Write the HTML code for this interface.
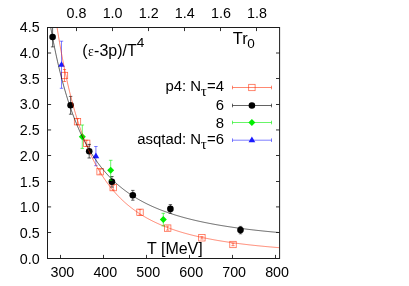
<!DOCTYPE html><html><head><meta charset="utf-8"><title>plot</title><style>
html,body{margin:0;padding:0;background:#fff;}body{width:409px;height:286px;overflow:hidden;}
svg{display:block;font-family:"Liberation Sans",sans-serif;will-change:transform;}
.tk{font-size:14.3px;fill:#000;}.lb{font-size:15.5px;fill:#000;}.lg{font-size:14.9px;fill:#000;}
</style></head><body>
<svg width="409" height="286" viewBox="0 0 409 286">
<rect width="409" height="286" fill="#fff"/>
<defs><clipPath id="cp"><rect x="47.50" y="27.50" width="232.10" height="231.00"/></clipPath></defs>
<g stroke="#ff2a00" stroke-width="0.7" stroke-opacity="0.8" fill="none" clip-path="url(#cp)"><path d="M64.50 69.50 V81.50 M62.90 69.50 H66.10 M62.90 81.50 H66.10"/></g>
<rect x="61.30" y="72.30" width="6.40" height="6.40" fill="none" stroke="#ff2a00" stroke-width="0.7" stroke-opacity="0.8"/>
<g stroke="#ff2a00" stroke-width="0.7" stroke-opacity="0.8" fill="none" clip-path="url(#cp)"><path d="M77.50 118.70 V124.70 M75.90 118.70 H79.10 M75.90 124.70 H79.10"/></g>
<rect x="74.30" y="118.50" width="6.40" height="6.40" fill="none" stroke="#ff2a00" stroke-width="0.7" stroke-opacity="0.8"/>
<g stroke="#ff2a00" stroke-width="0.7" stroke-opacity="0.8" fill="none" clip-path="url(#cp)"><path d="M86.70 140.30 V146.30 M85.10 140.30 H88.30 M85.10 146.30 H88.30"/></g>
<rect x="83.50" y="140.10" width="6.40" height="6.40" fill="none" stroke="#ff2a00" stroke-width="0.7" stroke-opacity="0.8"/>
<g stroke="#ff2a00" stroke-width="0.7" stroke-opacity="0.8" fill="none" clip-path="url(#cp)"><path d="M100.10 169.30 V174.10 M98.50 169.30 H101.70 M98.50 174.10 H101.70"/></g>
<rect x="96.90" y="168.50" width="6.40" height="6.40" fill="none" stroke="#ff2a00" stroke-width="0.7" stroke-opacity="0.8"/>
<g stroke="#ff2a00" stroke-width="0.7" stroke-opacity="0.8" fill="none" clip-path="url(#cp)"><path d="M113.20 185.10 V190.10 M111.60 185.10 H114.80 M111.60 190.10 H114.80"/></g>
<rect x="110.00" y="184.40" width="6.40" height="6.40" fill="none" stroke="#ff2a00" stroke-width="0.7" stroke-opacity="0.8"/>
<g stroke="#ff2a00" stroke-width="0.7" stroke-opacity="0.8" fill="none" clip-path="url(#cp)"><path d="M140.00 209.60 V215.00 M138.40 209.60 H141.60 M138.40 215.00 H141.60"/></g>
<rect x="136.80" y="209.10" width="6.40" height="6.40" fill="none" stroke="#ff2a00" stroke-width="0.7" stroke-opacity="0.8"/>
<g stroke="#ff2a00" stroke-width="0.7" stroke-opacity="0.8" fill="none" clip-path="url(#cp)"><path d="M167.70 226.10 V230.10 M166.10 226.10 H169.30 M166.10 230.10 H169.30"/></g>
<rect x="164.50" y="224.90" width="6.40" height="6.40" fill="none" stroke="#ff2a00" stroke-width="0.7" stroke-opacity="0.8"/>
<g stroke="#ff2a00" stroke-width="0.7" stroke-opacity="0.8" fill="none" clip-path="url(#cp)"><path d="M201.90 236.60 V239.00 M200.30 236.60 H203.50 M200.30 239.00 H203.50"/></g>
<rect x="198.70" y="234.60" width="6.40" height="6.40" fill="none" stroke="#ff2a00" stroke-width="0.7" stroke-opacity="0.8"/>
<g stroke="#ff2a00" stroke-width="0.7" stroke-opacity="0.8" fill="none" clip-path="url(#cp)"><path d="M233.00 243.30 V245.70 M231.40 243.30 H234.60 M231.40 245.70 H234.60"/></g>
<rect x="229.80" y="241.30" width="6.40" height="6.40" fill="none" stroke="#ff2a00" stroke-width="0.7" stroke-opacity="0.8"/>
<g stroke="#000" stroke-width="0.7" stroke-opacity="0.88" fill="none" clip-path="url(#cp)"><path d="M52.60 27.10 V46.90 M50.90 27.10 H54.30 M50.90 46.90 H54.30"/></g>
<circle cx="52.60" cy="37.00" r="3.30" fill="#000"/>
<g stroke="#000" stroke-width="0.7" stroke-opacity="0.88" fill="none" clip-path="url(#cp)"><path d="M70.60 96.40 V114.20 M68.90 96.40 H72.30 M68.90 114.20 H72.30"/></g>
<circle cx="70.60" cy="105.30" r="3.30" fill="#000"/>
<g stroke="#000" stroke-width="0.7" stroke-opacity="0.88" fill="none" clip-path="url(#cp)"><path d="M89.20 144.40 V158.00 M87.50 144.40 H90.90 M87.50 158.00 H90.90"/></g>
<circle cx="89.20" cy="151.20" r="3.30" fill="#000"/>
<g stroke="#000" stroke-width="0.7" stroke-opacity="0.88" fill="none" clip-path="url(#cp)"><path d="M111.90 176.50 V187.10 M110.20 176.50 H113.60 M110.20 187.10 H113.60"/></g>
<circle cx="111.90" cy="181.80" r="3.30" fill="#000"/>
<g stroke="#000" stroke-width="0.7" stroke-opacity="0.88" fill="none" clip-path="url(#cp)"><path d="M132.80 190.40 V200.20 M131.10 190.40 H134.50 M131.10 200.20 H134.50"/></g>
<circle cx="132.80" cy="195.30" r="3.30" fill="#000"/>
<g stroke="#000" stroke-width="0.7" stroke-opacity="0.88" fill="none" clip-path="url(#cp)"><path d="M170.40 204.60 V213.20 M168.70 204.60 H172.10 M168.70 213.20 H172.10"/></g>
<circle cx="170.40" cy="208.90" r="3.30" fill="#000"/>
<g stroke="#000" stroke-width="0.7" stroke-opacity="0.88" fill="none" clip-path="url(#cp)"><path d="M240.50 226.40 V233.80 M238.80 226.40 H242.20 M238.80 233.80 H242.20"/></g>
<circle cx="240.50" cy="230.10" r="3.30" fill="#000"/>
<g stroke="#00ee00" stroke-width="0.7" stroke-opacity="0.85" fill="none" clip-path="url(#cp)"><path d="M82.30 125.00 V148.40 M80.50 125.00 H84.10 M80.50 148.40 H84.10"/></g>
<path d="M82.30 133.20 L85.80 136.70 L82.30 140.20 L78.80 136.70 Z" fill="#00ee00"/>
<g stroke="#00ee00" stroke-width="0.7" stroke-opacity="0.85" fill="none" clip-path="url(#cp)"><path d="M110.70 160.30 V180.30 M108.90 160.30 H112.50 M108.90 180.30 H112.50"/></g>
<path d="M110.70 166.80 L114.20 170.30 L110.70 173.80 L107.20 170.30 Z" fill="#00ee00"/>
<g stroke="#00ee00" stroke-width="0.7" stroke-opacity="0.85" fill="none" clip-path="url(#cp)"><path d="M163.30 213.30 V225.90 M161.50 213.30 H165.10 M161.50 225.90 H165.10"/></g>
<path d="M163.30 216.10 L166.80 219.60 L163.30 223.10 L159.80 219.60 Z" fill="#00ee00"/>
<g stroke="#1a1aff" stroke-width="0.7" stroke-opacity="0.8" fill="none" clip-path="url(#cp)"><path d="M61.50 41.20 V88.30 M59.80 41.20 H63.20 M59.80 88.30 H63.20"/></g>
<path d="M61.50 61.15 L64.85 66.85 L58.15 66.85 Z" fill="#1a1aff"/>
<g stroke="#1a1aff" stroke-width="0.7" stroke-opacity="0.8" fill="none" clip-path="url(#cp)"><path d="M95.90 146.50 V165.70 M94.20 146.50 H97.60 M94.20 165.70 H97.60"/></g>
<path d="M95.90 152.50 L99.25 158.20 L92.55 158.20 Z" fill="#1a1aff"/>
<path d="M46.50 -55.93 L47.50 -46.46 L48.50 -37.36 L49.50 -28.63 L50.50 -20.24 L51.50 -12.18 L52.50 -4.43 L53.50 3.02 L54.50 10.20 L55.50 17.10 L56.50 23.75 L57.50 30.15 L58.50 36.31 L59.50 42.26 L60.50 47.99 L61.50 53.51 L62.50 58.84 L63.50 63.99 L64.50 68.95 L65.50 73.74 L66.50 78.37 L67.50 82.85 L68.50 87.17 L69.50 91.35 L70.50 95.39 L71.50 99.30 L72.50 103.08 L73.50 106.73 L74.50 110.28 L75.50 113.70 L76.50 117.02 L77.50 120.24 L78.50 123.36 L79.50 126.38 L80.50 129.30 L81.50 132.14 L82.50 134.90 L83.50 137.57 L84.50 140.16 L85.50 142.68 L86.50 145.12 L87.50 147.49 L88.50 149.79 L89.50 152.03 L90.50 154.20 L91.50 156.31 L92.50 158.36 L93.50 160.36 L94.50 162.30 L95.50 164.19 L96.50 166.02 L97.50 167.81 L98.50 169.55 L99.50 171.24 L100.50 172.89 L101.50 174.49 L102.50 176.05 L103.50 177.58 L104.50 179.06 L105.50 180.50 L106.50 181.91 L107.50 183.28 L108.50 184.62 L109.50 185.92 L110.50 187.19 L111.50 188.44 L112.50 189.65 L113.50 190.83 L114.50 191.98 L115.50 193.10 L116.50 194.20 L117.50 195.27 L118.50 196.32 L119.50 197.34 L120.50 198.34 L121.50 199.32 L122.50 200.27 L123.50 201.20 L124.50 202.11 L125.50 203.00 L126.50 203.87 L127.50 204.72 L128.50 205.55 L129.50 206.36 L130.50 207.16 L131.50 207.94 L132.50 208.70 L133.50 209.44 L134.50 210.17 L135.50 210.89 L136.50 211.59 L137.50 212.27 L138.50 212.94 L139.50 213.60 L140.50 214.24 L141.50 214.87 L142.50 215.48 L143.50 216.09 L144.50 216.68 L145.50 217.26 L146.50 217.83 L147.50 218.38 L148.50 218.93 L149.50 219.47 L150.50 219.99 L151.50 220.51 L152.50 221.01 L153.50 221.51 L154.50 221.99 L155.50 222.47 L156.50 222.93 L157.50 223.39 L158.50 223.84 L159.50 224.29 L160.50 224.72 L161.50 225.14 L162.50 225.56 L163.50 225.97 L164.50 226.38 L165.50 226.77 L166.50 227.16 L167.50 227.54 L168.50 227.92 L169.50 228.29 L170.50 228.65 L171.50 229.00 L172.50 229.35 L173.50 229.70 L174.50 230.03 L175.50 230.36 L176.50 230.69 L177.50 231.01 L178.50 231.33 L179.50 231.64 L180.50 231.94 L181.50 232.24 L182.50 232.54 L183.50 232.83 L184.50 233.11 L185.50 233.39 L186.50 233.67 L187.50 233.94 L188.50 234.21 L189.50 234.47 L190.50 234.73 L191.50 234.98 L192.50 235.23 L193.50 235.48 L194.50 235.72 L195.50 235.96 L196.50 236.20 L197.50 236.43 L198.50 236.66 L199.50 236.88 L200.50 237.10 L201.50 237.32 L202.50 237.54 L203.50 237.75 L204.50 237.96 L205.50 238.16 L206.50 238.36 L207.50 238.56 L208.50 238.76 L209.50 238.95 L210.50 239.14 L211.50 239.33 L212.50 239.52 L213.50 239.70 L214.50 239.88 L215.50 240.06 L216.50 240.23 L217.50 240.41 L218.50 240.58 L219.50 240.74 L220.50 240.91 L221.50 241.07 L222.50 241.23 L223.50 241.39 L224.50 241.55 L225.50 241.70 L226.50 241.85 L227.50 242.01 L228.50 242.15 L229.50 242.30 L230.50 242.44 L231.50 242.59 L232.50 242.73 L233.50 242.87 L234.50 243.00 L235.50 243.14 L236.50 243.27 L237.50 243.40 L238.50 243.53 L239.50 243.66 L240.50 243.79 L241.50 243.91 L242.50 244.04 L243.50 244.16 L244.50 244.28 L245.50 244.40 L246.50 244.52 L247.50 244.63 L248.50 244.75 L249.50 244.86 L250.50 244.97 L251.50 245.08 L252.50 245.19 L253.50 245.30 L254.50 245.40 L255.50 245.51 L256.50 245.61 L257.50 245.72 L258.50 245.82 L259.50 245.92 L260.50 246.02 L261.50 246.12 L262.50 246.21 L263.50 246.31 L264.50 246.40 L265.50 246.50 L266.50 246.59 L267.50 246.68 L268.50 246.77 L269.50 246.86 L270.50 246.95 L271.50 247.03 L272.50 247.12 L273.50 247.21 L274.50 247.29 L275.50 247.37 L276.50 247.46 L277.50 247.54 L278.50 247.62 L279.50 247.70" fill="none" stroke="#ff2a00" stroke-width="0.7" stroke-opacity="0.8" clip-path="url(#cp)"/>
<path d="M46.50 1.87 L47.50 8.33 L48.50 14.54 L49.50 20.53 L50.50 26.30 L51.50 31.86 L52.50 37.22 L53.50 42.38 L54.50 47.37 L55.50 52.18 L56.50 56.83 L57.50 61.32 L58.50 65.65 L59.50 69.84 L60.50 73.90 L61.50 77.81 L62.50 81.60 L63.50 85.27 L64.50 88.82 L65.50 92.26 L66.50 95.59 L67.50 98.81 L68.50 101.94 L69.50 104.97 L70.50 107.91 L71.50 110.75 L72.50 113.52 L73.50 116.20 L74.50 118.81 L75.50 121.33 L76.50 123.79 L77.50 126.17 L78.50 128.49 L79.50 130.74 L80.50 132.93 L81.50 135.06 L82.50 137.13 L83.50 139.14 L84.50 141.10 L85.50 143.01 L86.50 144.86 L87.50 146.67 L88.50 148.43 L89.50 150.15 L90.50 151.81 L91.50 153.44 L92.50 155.03 L93.50 156.57 L94.50 158.08 L95.50 159.55 L96.50 160.98 L97.50 162.38 L98.50 163.75 L99.50 165.08 L100.50 166.38 L101.50 167.65 L102.50 168.89 L103.50 170.10 L104.50 171.28 L105.50 172.44 L106.50 173.56 L107.50 174.67 L108.50 175.75 L109.50 176.80 L110.50 177.83 L111.50 178.84 L112.50 179.82 L113.50 180.79 L114.50 181.73 L115.50 182.65 L116.50 183.56 L117.50 184.44 L118.50 185.30 L119.50 186.15 L120.50 186.98 L121.50 187.79 L122.50 188.59 L123.50 189.37 L124.50 190.13 L125.50 190.88 L126.50 191.62 L127.50 192.33 L128.50 193.04 L129.50 193.73 L130.50 194.41 L131.50 195.07 L132.50 195.72 L133.50 196.36 L134.50 196.99 L135.50 197.60 L136.50 198.21 L137.50 198.80 L138.50 199.38 L139.50 199.95 L140.50 200.51 L141.50 201.06 L142.50 201.60 L143.50 202.13 L144.50 202.65 L145.50 203.16 L146.50 203.66 L147.50 204.16 L148.50 204.64 L149.50 205.12 L150.50 205.59 L151.50 206.05 L152.50 206.50 L153.50 206.94 L154.50 207.38 L155.50 207.81 L156.50 208.23 L157.50 208.65 L158.50 209.06 L159.50 209.46 L160.50 209.85 L161.50 210.24 L162.50 210.63 L163.50 211.00 L164.50 211.37 L165.50 211.74 L166.50 212.09 L167.50 212.45 L168.50 212.80 L169.50 213.14 L170.50 213.47 L171.50 213.81 L172.50 214.13 L173.50 214.45 L174.50 214.77 L175.50 215.08 L176.50 215.39 L177.50 215.69 L178.50 215.99 L179.50 216.28 L180.50 216.57 L181.50 216.86 L182.50 217.14 L183.50 217.42 L184.50 217.69 L185.50 217.96 L186.50 218.22 L187.50 218.48 L188.50 218.74 L189.50 218.99 L190.50 219.24 L191.50 219.49 L192.50 219.73 L193.50 219.97 L194.50 220.21 L195.50 220.45 L196.50 220.68 L197.50 220.90 L198.50 221.13 L199.50 221.35 L200.50 221.57 L201.50 221.78 L202.50 221.99 L203.50 222.20 L204.50 222.41 L205.50 222.61 L206.50 222.81 L207.50 223.01 L208.50 223.21 L209.50 223.40 L210.50 223.59 L211.50 223.78 L212.50 223.97 L213.50 224.15 L214.50 224.34 L215.50 224.52 L216.50 224.69 L217.50 224.87 L218.50 225.04 L219.50 225.21 L220.50 225.38 L221.50 225.55 L222.50 225.71 L223.50 225.87 L224.50 226.03 L225.50 226.19 L226.50 226.35 L227.50 226.50 L228.50 226.66 L229.50 226.81 L230.50 226.96 L231.50 227.10 L232.50 227.25 L233.50 227.40 L234.50 227.54 L235.50 227.68 L236.50 227.82 L237.50 227.96 L238.50 228.09 L239.50 228.23 L240.50 228.36 L241.50 228.49 L242.50 228.62 L243.50 228.75 L244.50 228.88 L245.50 229.00 L246.50 229.13 L247.50 229.25 L248.50 229.37 L249.50 229.49 L250.50 229.61 L251.50 229.73 L252.50 229.85 L253.50 229.96 L254.50 230.07 L255.50 230.19 L256.50 230.30 L257.50 230.41 L258.50 230.52 L259.50 230.63 L260.50 230.73 L261.50 230.84 L262.50 230.94 L263.50 231.05 L264.50 231.15 L265.50 231.25 L266.50 231.35 L267.50 231.45 L268.50 231.55 L269.50 231.65 L270.50 231.74 L271.50 231.84 L272.50 231.93 L273.50 232.03 L274.50 232.12 L275.50 232.21 L276.50 232.30 L277.50 232.39 L278.50 232.48 L279.50 232.57" fill="none" stroke="#000" stroke-width="0.7" stroke-opacity="0.88" clip-path="url(#cp)"/>
<rect x="47.50" y="27.50" width="232.10" height="231.00" fill="none" stroke="#1c1c1c" stroke-width="1"/>
<path d="M60.50 258.50 V254.90 M103.50 258.50 V254.90 M146.50 258.50 V254.90 M189.50 258.50 V254.90 M232.50 258.50 V254.90 M275.50 258.50 V254.90 M76.50 27.50 V31.10 M112.50 27.50 V31.10 M148.50 27.50 V31.10 M184.50 27.50 V31.10 M220.50 27.50 V31.10 M256.50 27.50 V31.10 M47.50 232.50 H51.10 M279.60 232.50 H276.00 M47.50 206.90 H51.10 M279.60 206.90 H276.00 M47.50 181.50 H51.10 M279.60 181.50 H276.00 M47.50 155.50 H51.10 M279.60 155.50 H276.00 M47.50 129.95 H51.10 M279.60 129.95 H276.00 M47.50 104.50 H51.10 M279.60 104.50 H276.00 M47.50 78.50 H51.10 M279.60 78.50 H276.00 M47.50 53.00 H51.10 M279.60 53.00 H276.00 " stroke="#1c1c1c" stroke-width="0.9" fill="none"/>
<text class="tk" x="39.7" y="263.95" text-anchor="end">0.0</text>
<text class="tk" x="39.7" y="238.20" text-anchor="end">0.5</text>
<text class="tk" x="39.7" y="212.45" text-anchor="end">1.0</text>
<text class="tk" x="39.7" y="186.70" text-anchor="end">1.5</text>
<text class="tk" x="39.7" y="160.95" text-anchor="end">2.0</text>
<text class="tk" x="39.7" y="135.20" text-anchor="end">2.5</text>
<text class="tk" x="39.7" y="109.45" text-anchor="end">3.0</text>
<text class="tk" x="39.7" y="83.70" text-anchor="end">3.5</text>
<text class="tk" x="39.7" y="57.95" text-anchor="end">4.0</text>
<text class="tk" x="39.7" y="32.20" text-anchor="end">4.5</text>
<text class="tk" x="62.40" y="277.2" text-anchor="middle">300</text>
<text class="tk" x="105.34" y="277.2" text-anchor="middle">400</text>
<text class="tk" x="148.28" y="277.2" text-anchor="middle">500</text>
<text class="tk" x="191.22" y="277.2" text-anchor="middle">600</text>
<text class="tk" x="234.16" y="277.2" text-anchor="middle">700</text>
<text class="tk" x="277.10" y="277.2" text-anchor="middle">800</text>
<text class="tk" x="76.50" y="18.3" text-anchor="middle">0.8</text>
<text class="tk" x="112.60" y="18.3" text-anchor="middle">1.0</text>
<text class="tk" x="148.70" y="18.3" text-anchor="middle">1.2</text>
<text class="tk" x="184.80" y="18.3" text-anchor="middle">1.4</text>
<text class="tk" x="220.90" y="18.3" text-anchor="middle">1.6</text>
<text class="tk" x="257.00" y="18.3" text-anchor="middle">1.8</text>
<text class="lb" style="font-size:16px" x="82.2" y="56.0">(<tspan font-family="Liberation Serif" font-size="13.6px" dx="0.4">ε</tspan><tspan dx="0.4">-3p)/T</tspan><tspan font-size="13.6px" dy="-9.0">4</tspan></text>
<text class="lb" style="font-size:16px" x="147.0" y="253.7">T [MeV]</text>
<text class="lb" style="font-size:16.4px" x="232.8" y="43.7">Tr<tspan font-size="13.5px" dx="-0.4" dy="4.5">0</tspan></text>
<text class="lg" x="224.0" y="91.1" text-anchor="end">p4: N<tspan font-family="Liberation Serif" font-weight="normal" font-size="15px" dx="-0.3" dy="4.6">τ</tspan><tspan font-weight="normal" dx="0.2" dy="-4.6">=4</tspan></text>
<text class="lg" x="224.0" y="110.0" text-anchor="end">6</text>
<text class="lg" x="224.0" y="127.7" text-anchor="end">8</text>
<text class="lg" x="224.0" y="144.2" text-anchor="end">asqtad: N<tspan font-family="Liberation Serif" font-weight="normal" font-size="15px" dx="-0.3" dy="4.6">τ</tspan><tspan font-weight="normal" dx="0.2" dy="-4.6">=6</tspan></text>
<path d="M232.5 87.50 H271.5 M232.5 85.70 V89.30 M271.5 85.70 V89.30" stroke="#ff2a00" stroke-width="0.7" stroke-opacity="0.8" fill="none"/>
<rect x="248.70" y="84.30" width="6.40" height="6.40" fill="none" stroke="#ff2a00" stroke-width="0.7" stroke-opacity="0.8"/>
<path d="M232.5 105.50 H271.5 M232.5 103.70 V107.30 M271.5 103.70 V107.30" stroke="#000" stroke-width="0.7" stroke-opacity="0.88" fill="none"/>
<circle cx="251.90" cy="105.50" r="3.30" fill="#000"/>
<path d="M232.5 122.50 H271.5 M232.5 120.70 V124.30 M271.5 120.70 V124.30" stroke="#00ee00" stroke-width="0.7" stroke-opacity="0.85" fill="none"/>
<path d="M251.90 119.00 L255.40 122.50 L251.90 126.00 L248.40 122.50 Z" fill="#00ee00"/>
<path d="M232.5 140.20 H271.5 M232.5 138.40 V142.00 M271.5 138.40 V142.00" stroke="#1a1aff" stroke-width="0.7" stroke-opacity="0.8" fill="none"/>
<path d="M251.90 136.60 L255.25 142.30 L248.55 142.30 Z" fill="#1a1aff"/>
</svg></body></html>
